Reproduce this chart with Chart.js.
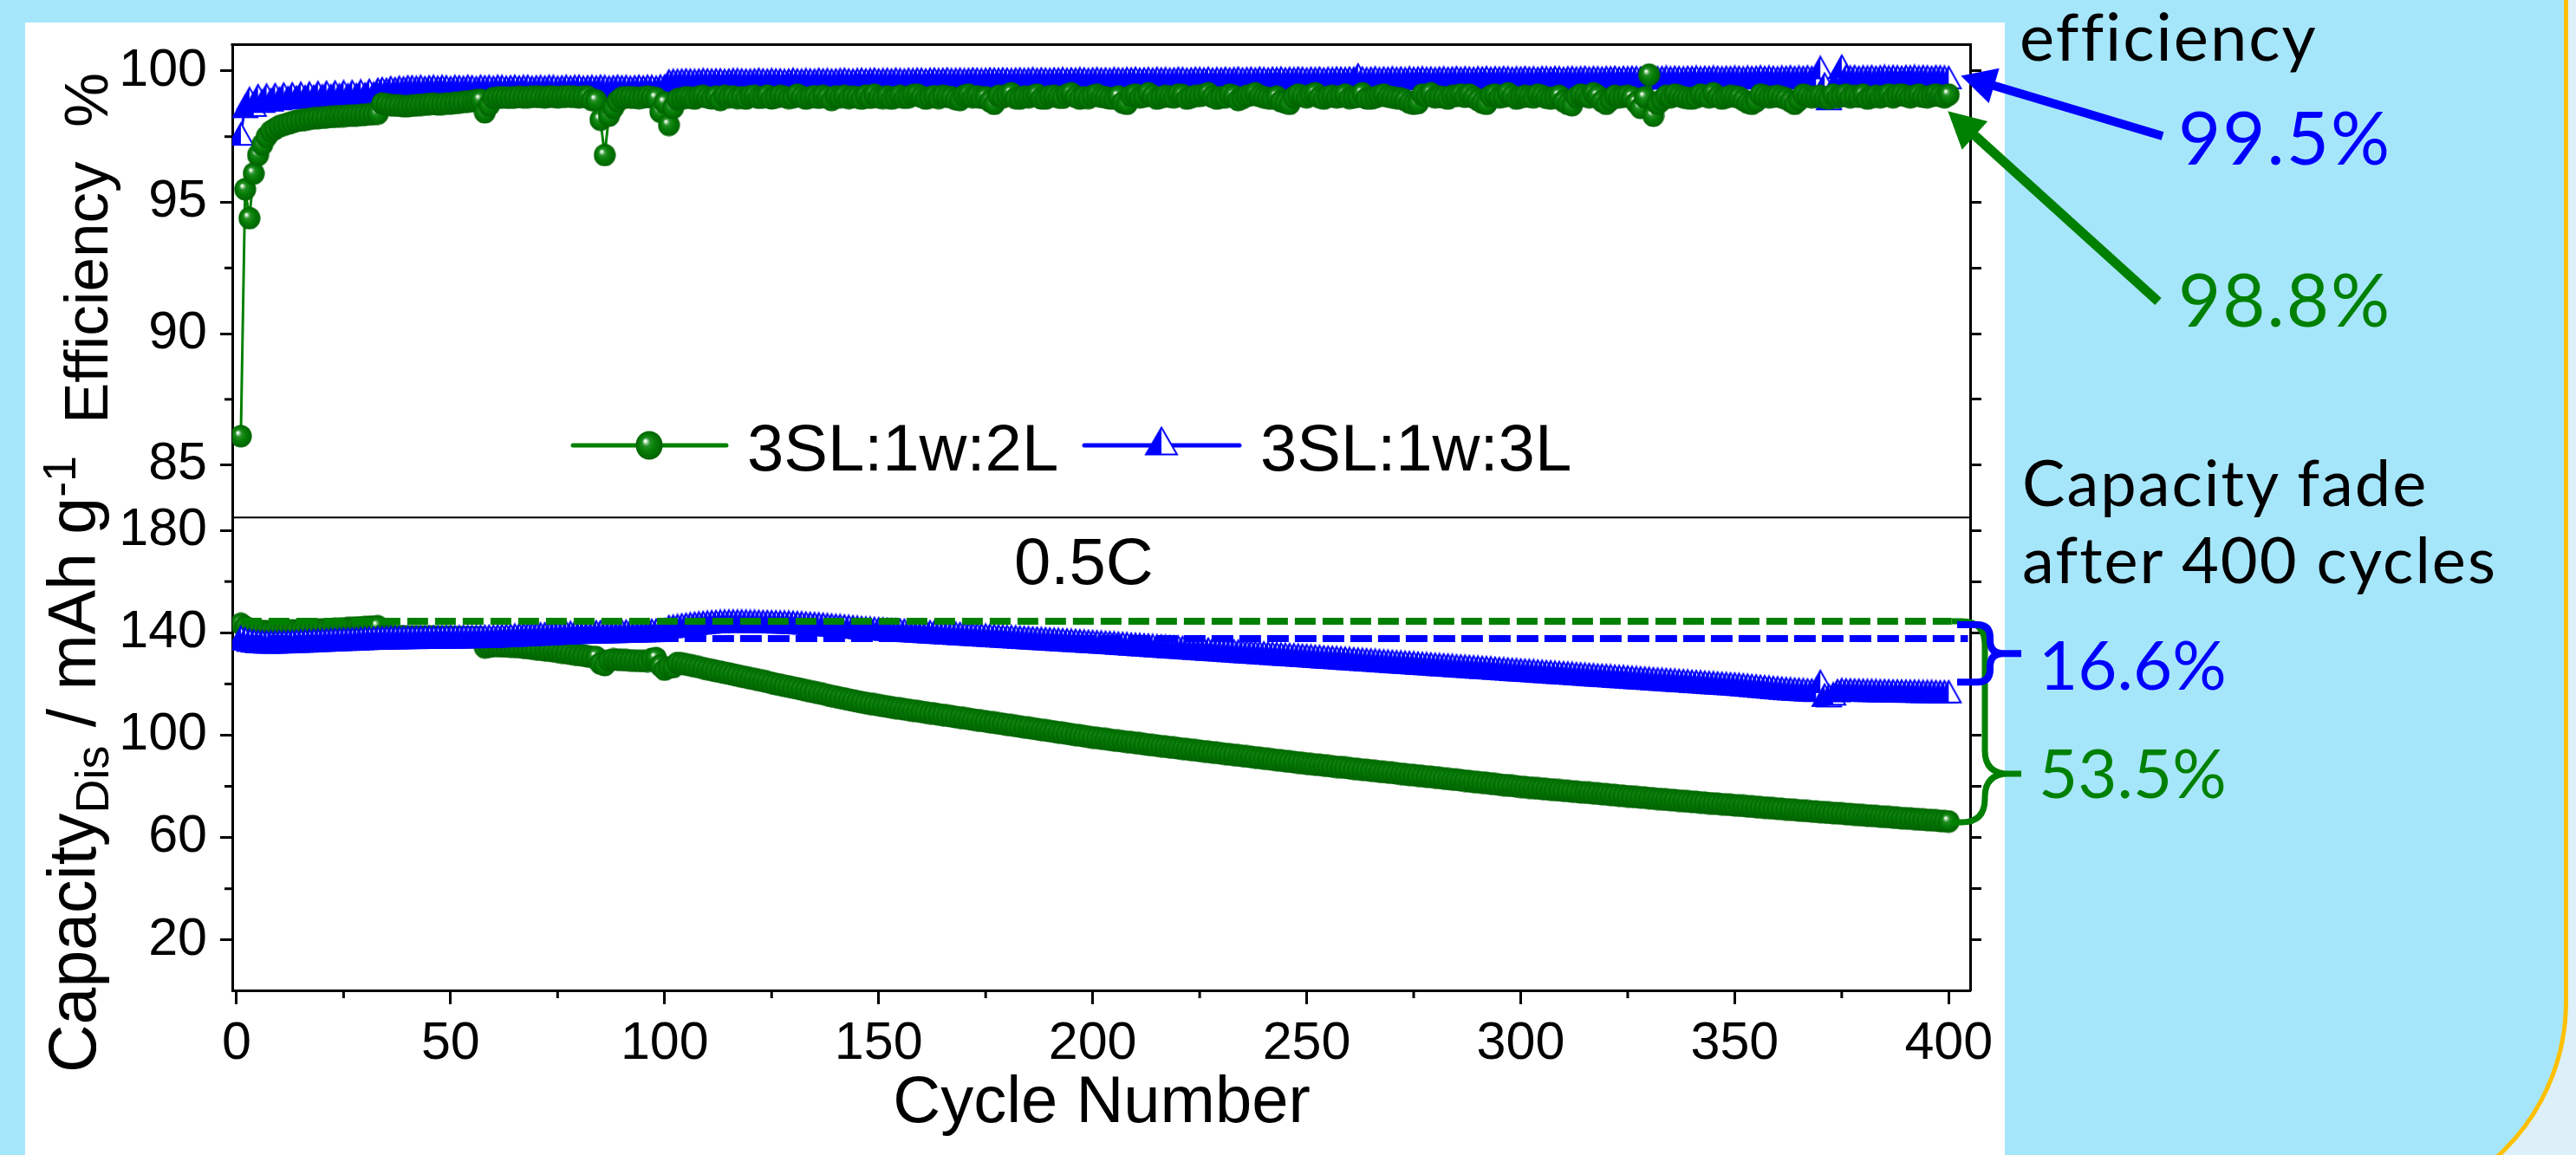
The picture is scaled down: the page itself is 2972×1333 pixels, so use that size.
<!DOCTYPE html>
<html>
<head>
<meta charset="utf-8">
<title>Cycling: efficiency and discharge capacity</title>
<script src="https://cdn.jsdelivr.net/npm/chart.js@4.4.1/dist/chart.umd.min.js"></script>
<style>
  html, body { margin: 0; padding: 0; }
  body { position: relative; width: 2972px; height: 1333px; overflow: hidden; background: #ddf0fa; }
  #card { position: absolute; left: -300px; top: -300px; width: 3263px; height: 1700px; box-sizing: border-box;
          border: 5px solid #ffc000; border-radius: 244px; background: #a6e6fb; }
  #sheet { position: absolute; left: 29px; top: 26px; width: 2284px; height: 1400px; background: #fff; }
  #chart { position: absolute; left: 0; top: 0; }
  .t { position: absolute; white-space: pre; line-height: 1; color: #000;
       font-family: "Liberation Sans", Arial, sans-serif; }
  .n { font-family: Lato, "Noto Sans", sans-serif; letter-spacing: 2px; }
  .rot { transform-origin: 0 0; transform: rotate(-90deg); }
</style>
</head>
<body>
<div id="card"></div>
<div id="sheet"></div>
<canvas id="chart" width="2972" height="1333"></canvas>

<div class="t rot" style="left:64px; top:489px; font-size:71px">Efficiency  %</div>
<div class="t rot" style="left:45px; top:1238px; font-size:77px">Capacity<span style="position:relative; top:0.27em; font-size:0.7em">Dis</span> / mAh g<span style="position:relative; top:-0.42em; font-size:0.7em">-1</span></div>
<div class="t" style="left:1271px; top:1231px; font-size:76px; transform:translateX(-50%)">Cycle Number</div>
<div class="t" style="left:862px; top:479px; font-size:76px">3SL:1w:2L</div>
<div class="t" style="left:1454px; top:479px; font-size:76px">3SL:1w:3L</div>
<div class="t" style="left:1170px; top:610px; font-size:76px">0.5C</div>

<div class="t n" style="left:2330px; top:3px; font-size:76px">efficiency</div>
<div class="t n" style="left:2513px; top:115px; font-size:85px; color:#0000ff">99.5%</div>
<div class="t n" style="left:2513px; top:302px; font-size:85px; color:#008000">98.8%</div>
<div class="t n" style="left:2333px; top:519px; font-size:74px">Capacity fade</div>
<div class="t n" style="left:2333px; top:608px; font-size:74px">after 400 cycles</div>
<div class="t n" style="left:2352px; top:727px; font-size:78px; letter-spacing:0; color:#0000ff">16.6%</div>
<div class="t n" style="left:2352px; top:852px; font-size:78px; letter-spacing:0; color:#008000">53.5%</div>

<script>
// cycle numbers
const cycles = [
  1, 2, 3, 4, 5, 6, 7, 8, 9, 10,
  11, 12, 13, 14, 15, 16, 17, 18, 19, 20,
  21, 22, 23, 24, 25, 26, 27, 28, 29, 30,
  31, 32, 33, 34, 35, 36, 37, 38, 39, 40,
  41, 42, 43, 44, 45, 46, 47, 48, 49, 50,
  51, 52, 53, 54, 55, 56, 57, 58, 59, 60,
  61, 62, 63, 64, 65, 66, 67, 68, 69, 70,
  71, 72, 73, 74, 75, 76, 77, 78, 79, 80,
  81, 82, 83, 84, 85, 86, 87, 88, 89, 90,
  91, 92, 93, 94, 95, 96, 97, 98, 99, 100,
  101, 102, 103, 104, 105, 106, 107, 108, 109, 110,
  111, 112, 113, 114, 115, 116, 117, 118, 119, 120,
  121, 122, 123, 124, 125, 126, 127, 128, 129, 130,
  131, 132, 133, 134, 135, 136, 137, 138, 139, 140,
  141, 142, 143, 144, 145, 146, 147, 148, 149, 150,
  151, 152, 153, 154, 155, 156, 157, 158, 159, 160,
  161, 162, 163, 164, 165, 166, 167, 168, 169, 170,
  171, 172, 173, 174, 175, 176, 177, 178, 179, 180,
  181, 182, 183, 184, 185, 186, 187, 188, 189, 190,
  191, 192, 193, 194, 195, 196, 197, 198, 199, 200,
  201, 202, 203, 204, 205, 206, 207, 208, 209, 210,
  211, 212, 213, 214, 215, 216, 217, 218, 219, 220,
  221, 222, 223, 224, 225, 226, 227, 228, 229, 230,
  231, 232, 233, 234, 235, 236, 237, 238, 239, 240,
  241, 242, 243, 244, 245, 246, 247, 248, 249, 250,
  251, 252, 253, 254, 255, 256, 257, 258, 259, 260,
  261, 262, 263, 264, 265, 266, 267, 268, 269, 270,
  271, 272, 273, 274, 275, 276, 277, 278, 279, 280,
  281, 282, 283, 284, 285, 286, 287, 288, 289, 290,
  291, 292, 293, 294, 295, 296, 297, 298, 299, 300,
  301, 302, 303, 304, 305, 306, 307, 308, 309, 310,
  311, 312, 313, 314, 315, 316, 317, 318, 319, 320,
  321, 322, 323, 324, 325, 326, 327, 328, 329, 330,
  331, 332, 333, 334, 335, 336, 337, 338, 339, 340,
  341, 342, 343, 344, 345, 346, 347, 348, 349, 350,
  351, 352, 353, 354, 355, 356, 357, 358, 359, 360,
  361, 362, 363, 364, 365, 366, 367, 368, 369, 370,
  371, 372, 373, 374, 375, 376, 377, 378, 379, 380,
  381, 382, 383, 384, 385, 386, 387, 388, 389, 390,
  391, 392, 393, 394, 395, 396, 397, 398, 399, 400
];

// coulombic efficiency (%), 3SL:1w:2L
const effA = [
  86.1, 95.5, 94.4, 96.1, 96.8, 97.2, 97.5, 97.7, 97.8, 97.9,
  97.95, 98.0, 98.05, 98.1, 98.12, 98.15, 98.18, 98.2, 98.21, 98.22,
  98.24, 98.25, 98.26, 98.28, 98.28, 98.3, 98.3, 98.31, 98.32, 98.33,
  98.35, 98.36, 98.38, 98.76, 98.74, 98.7, 98.69, 98.68, 98.66, 98.66,
  98.68, 98.7, 98.71, 98.72, 98.74, 98.75, 98.73, 98.74, 98.76, 98.76,
  98.78, 98.8, 98.82, 98.84, 98.85, 98.88, 98.9, 98.43, 98.7, 98.97,
  98.98, 99.0, 98.99, 98.98, 99.0, 99.01, 99.0, 99.0, 99.02, 99.02,
  99.01, 99.0, 99.02, 99.02, 99.0, 99.01, 99.03, 99.03, 99.01, 99.0,
  99.02, 99.02, 98.9, 98.88, 98.15, 96.8, 98.3, 98.6, 98.85, 98.98,
  99.0, 99.0, 98.98, 98.97, 99.0, 99.02, 99.0, 98.97, 98.45, 98.8,
  97.95, 98.6, 98.92, 98.95, 99.0, 98.98, 98.95, 99.02, 99.05, 99.0,
  98.96, 99.02, 98.9, 99.05, 99.0, 99.03, 98.97, 99.0, 98.95, 99.04,
  99.05, 98.98, 99.0, 99.06, 98.96, 99.0, 99.05, 99.02, 98.97, 99.0,
  99.1, 99.02, 98.95, 99.0, 99.04, 98.98, 99.05, 99.0, 98.9, 99.03,
  99.0, 99.05, 98.97, 99.02, 99.0, 98.95, 99.06, 98.98, 99.1, 99.0,
  98.97, 99.03, 98.95, 99.0, 99.05, 98.98, 99.0, 99.08, 99.1, 99.02,
  98.95, 99.0, 99.04, 98.97, 99.05, 99.02, 99.0, 98.93, 98.9, 99.06,
  99.1, 99.0, 99.03, 98.98, 99.0, 98.85, 98.75, 99.05, 99.0, 99.08,
  99.15, 98.97, 98.95, 99.02, 99.0, 99.05, 99.1, 98.96, 98.95, 99.04,
  99.05, 99.0, 98.98, 99.1, 99.15, 99.02, 98.95, 99.0, 98.97, 99.05,
  99.1, 99.02, 99.0, 98.96, 98.95, 99.03, 98.8, 98.75, 99.05, 99.1,
  99.0, 99.03, 99.15, 99.05, 98.95, 99.0, 99.05, 99.02, 99.0, 99.1,
  99.08, 98.95, 99.0, 99.05, 99.05, 99.1, 99.15, 99.02, 98.95, 99.0,
  99.0, 99.1, 99.05, 98.9, 98.97, 99.05, 99.08, 99.15, 99.05, 99.0,
  98.97, 98.95, 99.02, 98.85, 98.8, 98.75, 99.0, 99.1, 99.05, 99.0,
  99.08, 99.15, 99.0, 98.95, 99.02, 99.05, 99.0, 99.04, 99.1, 98.97,
  99.0, 99.02, 99.15, 98.96, 98.95, 99.0, 99.05, 99.1, 99.03, 99.0,
  98.97, 98.95, 98.9, 98.8, 98.75, 98.78, 99.1, 99.05, 99.15, 99.0,
  99.02, 99.0, 98.95, 99.05, 99.05, 99.1, 99.02, 99.1, 99.0, 98.9,
  98.8, 98.75, 99.05, 99.1, 99.0, 99.03, 99.15, 99.05, 98.95, 99.0,
  99.05, 99.02, 99.0, 99.1, 99.05, 98.98, 98.95, 99.0, 99.05, 98.85,
  98.75, 98.7, 99.0, 99.1, 99.05, 99.0, 99.15, 99.05, 98.85, 98.75,
  98.9, 99.05, 99.0, 99.02, 99.05, 99.0, 98.8, 98.6, 99.0, 99.86,
  98.3, 98.75, 98.9, 99.05, 99.0, 99.1, 99.05, 99.0, 98.97, 98.95,
  99.0, 99.1, 99.05, 99.0, 99.15, 99.02, 98.95, 99.0, 99.05, 99.03,
  99.0, 98.9, 98.8, 98.75, 98.85, 99.1, 99.05, 99.0, 99.02, 99.05,
  99.0, 98.95, 98.85, 98.75, 98.9, 99.1, 99.05, 99.0, 99.02, 99.05,
  98.98, 98.95, 99.1, 99.0, 99.05, 99.1, 99.0, 99.05, 99.02, 99.1,
  98.95, 99.0, 99.05, 99.0, 99.05, 99.1, 99.0, 99.08, 99.1, 99.05,
  99.0, 99.05, 99.1, 99.02, 99.0, 99.05, 99.1, 99.05, 99.0, 99.1
];

// coulombic efficiency (%), 3SL:1w:3L
const effB = [
  97.6, 98.65, 98.95, 98.7, 99.06, 98.85, 99.08, 98.9, 99.1, 98.95,
  99.12, 98.98, 99.13, 99.0, 99.15, 99.02, 99.16, 99.03, 99.18, 99.05,
  99.19, 99.06, 99.2, 99.08, 99.21, 99.09, 99.22, 99.1, 99.24, 99.12,
  99.26, 99.14, 99.3, 99.33, 99.3, 99.37, 99.33, 99.38, 99.36, 99.4,
  99.4, 99.38, 99.41, 99.37, 99.4, 99.41, 99.38, 99.41, 99.4, 99.37,
  99.41, 99.4, 99.38, 99.42, 99.4, 99.37, 99.42, 99.4, 99.41, 99.38,
  99.42, 99.41, 99.38, 99.4, 99.42, 99.39, 99.41, 99.42, 99.38, 99.4,
  99.41, 99.39, 99.42, 99.41, 99.38, 99.4, 99.42, 99.39, 99.41, 99.42,
  99.38, 99.4, 99.41, 99.39, 99.42, 99.41, 99.38, 99.4, 99.42, 99.4,
  99.41, 99.38, 99.4, 99.42, 99.39, 99.42, 99.41, 99.38, 99.43, 99.43,
  99.62, 99.64, 99.64, 99.65, 99.66, 99.65, 99.64, 99.65, 99.67, 99.66,
  99.65, 99.66, 99.66, 99.64, 99.65, 99.67, 99.67, 99.66, 99.65, 99.65,
  99.66, 99.68, 99.66, 99.65, 99.67, 99.66, 99.66, 99.64, 99.65, 99.68,
  99.66, 99.65, 99.67, 99.66, 99.65, 99.68, 99.66, 99.67, 99.65, 99.66,
  99.67, 99.68, 99.66, 99.65, 99.67, 99.68, 99.66, 99.67, 99.69, 99.66,
  99.67, 99.68, 99.66, 99.69, 99.67, 99.66, 99.68, 99.67, 99.69, 99.68,
  99.66, 99.68, 99.69, 99.67, 99.68, 99.7, 99.67, 99.68, 99.69, 99.67,
  99.68, 99.7, 99.69, 99.67, 99.68, 99.7, 99.69, 99.68, 99.7, 99.69,
  99.67, 99.69, 99.7, 99.68, 99.69, 99.71, 99.68, 99.7, 99.69, 99.68,
  99.7, 99.69, 99.71, 99.68, 99.7, 99.69, 99.71, 99.7, 99.68, 99.7,
  99.71, 99.69, 99.7, 99.68, 99.71, 99.7, 99.69, 99.71, 99.7, 99.72,
  99.69, 99.7, 99.71, 99.69, 99.72, 99.7, 99.71, 99.69, 99.7, 99.72,
  99.71, 99.69, 99.7, 99.72, 99.71, 99.7, 99.72, 99.69, 99.71, 99.7,
  99.72, 99.7, 99.71, 99.73, 99.7, 99.71, 99.72, 99.7, 99.73, 99.71,
  99.7, 99.72, 99.71, 99.73, 99.7, 99.72, 99.71, 99.73, 99.72, 99.7,
  99.72, 99.71, 99.73, 99.7, 99.72, 99.71, 99.73, 99.72, 99.71, 99.73,
  99.72, 99.85, 99.73, 99.71, 99.72, 99.74, 99.71, 99.73, 99.72, 99.74,
  99.72, 99.73, 99.71, 99.74, 99.72, 99.73, 99.74, 99.72, 99.73, 99.71,
  99.73, 99.74, 99.72, 99.73, 99.75, 99.72, 99.74, 99.73, 99.72, 99.74,
  99.73, 99.75, 99.72, 99.74, 99.73, 99.75, 99.74, 99.72, 99.74, 99.73,
  99.75, 99.73, 99.74, 99.72, 99.75, 99.74, 99.73, 99.75, 99.74, 99.72,
  99.74, 99.75, 99.73, 99.74, 99.76, 99.73, 99.75, 99.74, 99.73, 99.75,
  99.74, 99.76, 99.73, 99.75, 99.74, 99.76, 99.75, 99.73, 99.75, 99.74,
  99.76, 99.74, 99.75, 99.77, 99.74, 99.76, 99.75, 99.74, 99.76, 99.75,
  99.77, 99.74, 99.76, 99.75, 99.77, 99.76, 99.74, 99.76, 99.75, 99.77,
  99.76, 99.74, 99.77, 99.75, 99.76, 99.78, 99.75, 99.77, 99.76, 99.74,
  99.77, 99.76, 99.78, 99.75, 99.77, 99.76, 99.78, 99.75, 99.6, 100.13,
  99.5, 98.95, 99.4, 99.6, 100.18, 99.8, 99.77, 99.79, 99.76, 99.78,
  99.77, 99.79, 99.76, 99.78, 99.8, 99.77, 99.79, 99.78, 99.76, 99.79,
  99.78, 99.8, 99.77, 99.79, 99.78, 99.76, 99.79, 99.78, 99.77, 99.75
];

// discharge capacity (mAh/g), 3SL:1w:2L
const capA = [
  143.5, 142.3, 141.5, 141.0, 140.8, 140.7, 140.6, 140.6, 140.65, 140.7,
  140.7, 140.8, 140.85, 140.9, 140.95, 141.0, 141.05, 141.1, 141.2, 141.3,
  141.35, 141.4, 141.5, 141.6, 141.7, 141.8, 141.9, 142.0, 142.1, 142.2,
  142.3, 142.4, 142.5, 138.9, 138.8, 138.8, 138.7, 138.7, 138.6, 138.6,
  138.6, 138.6, 138.5, 138.5, 138.5, 138.5, 138.4, 138.4, 138.4, 138.4,
  138.3, 138.3, 138.3, 138.3, 138.2, 138.2, 138.1, 134.3, 134.6, 134.8,
  134.8, 134.7, 134.7, 134.6, 134.5, 134.4, 134.2, 134.0, 133.8, 133.6,
  133.4, 133.2, 133.0, 132.8, 132.6, 132.3, 132.1, 131.8, 131.6, 131.3,
  131.1, 130.8, 130.6, 130.5, 128.0, 127.4, 129.2, 129.6, 129.5, 129.4,
  129.3, 129.2, 129.1, 129.0, 129.0, 128.9, 129.8, 130.1, 127.2, 125.6,
  126.4, 126.6, 128.2, 128.0, 127.6, 127.3, 126.9, 126.6, 126.2, 125.8,
  125.5, 125.1, 124.8, 124.4, 124.1, 123.7, 123.3, 122.9, 122.6, 122.2,
  121.9, 121.5, 121.2, 120.8, 120.4, 120.0, 119.7, 119.3, 119.0, 118.6,
  118.3, 117.9, 117.5, 117.1, 116.8, 116.4, 116.1, 115.7, 115.3, 115.0,
  114.6, 114.3, 113.9, 113.6, 113.2, 112.9, 112.6, 112.3, 112.0, 111.7,
  111.4, 111.2, 110.9, 110.6, 110.4, 110.1, 109.9, 109.6, 109.4, 109.1,
  108.9, 108.6, 108.4, 108.1, 107.9, 107.6, 107.4, 107.1, 106.9, 106.6,
  106.4, 106.1, 105.9, 105.6, 105.4, 105.1, 104.9, 104.6, 104.4, 104.1,
  103.9, 103.6, 103.4, 103.1, 102.9, 102.6, 102.4, 102.1, 101.9, 101.6,
  101.4, 101.1, 100.9, 100.6, 100.4, 100.1, 99.9, 99.6, 99.4, 99.1,
  98.9, 98.7, 98.5, 98.2, 98.0, 97.8, 97.6, 97.4, 97.2, 97.0,
  96.8, 96.5, 96.3, 96.1, 95.9, 95.7, 95.5, 95.3, 95.1, 94.9,
  94.7, 94.5, 94.3, 94.1, 93.9, 93.7, 93.5, 93.3, 93.1, 92.9,
  92.7, 92.5, 92.3, 92.1, 91.9, 91.7, 91.5, 91.3, 91.1, 90.9,
  90.7, 90.5, 90.3, 90.1, 89.9, 89.7, 89.5, 89.3, 89.1, 88.9,
  88.7, 88.5, 88.4, 88.2, 88.0, 87.8, 87.6, 87.5, 87.3, 87.1,
  86.9, 86.7, 86.5, 86.4, 86.2, 86.0, 85.8, 85.6, 85.5, 85.3,
  85.1, 84.9, 84.7, 84.5, 84.4, 84.2, 84.0, 83.8, 83.7, 83.5,
  83.3, 83.1, 82.9, 82.7, 82.6, 82.4, 82.2, 82.0, 81.8, 81.6,
  81.5, 81.3, 81.1, 80.9, 80.7, 80.5, 80.4, 80.2, 80.0, 79.8,
  79.7, 79.5, 79.4, 79.2, 79.1, 78.9, 78.8, 78.6, 78.5, 78.3,
  78.2, 78.0, 77.9, 77.7, 77.6, 77.5, 77.3, 77.2, 77.0, 76.9,
  76.7, 76.6, 76.4, 76.3, 76.1, 76.0, 75.8, 75.7, 75.6, 75.4,
  75.3, 75.1, 75.0, 74.8, 74.7, 74.6, 74.4, 74.3, 74.1, 74.0,
  73.9, 73.7, 73.6, 73.4, 73.3, 73.2, 73.0, 72.9, 72.8, 72.6,
  72.5, 72.4, 72.2, 72.1, 72.0, 71.8, 71.7, 71.6, 71.4, 71.3,
  71.2, 71.0, 70.9, 70.8, 70.6, 70.5, 70.4, 70.2, 70.1, 70.0,
  69.9, 69.7, 69.6, 69.5, 69.4, 69.2, 69.1, 69.0, 68.9, 68.7,
  68.6, 68.5, 68.4, 68.2, 68.1, 68.0, 67.9, 67.7, 67.6, 67.5,
  67.4, 67.3, 67.1, 67.0, 66.9, 66.8, 66.7, 66.5, 66.4, 66.3
];

// discharge capacity (mAh/g), 3SL:1w:3L
const capB = [
  138.2, 137.6, 137.1, 136.8, 136.6, 136.5, 136.4, 136.4, 136.4, 136.45,
  136.5, 136.55, 136.6, 136.7, 136.75, 136.8, 136.9, 137.0, 137.05, 137.1,
  137.2, 137.3, 137.35, 137.4, 137.45, 137.5, 137.55, 137.6, 137.7, 137.8,
  137.85, 137.9, 137.95, 138.0, 138.05, 138.1, 138.1, 138.1, 138.15, 138.2,
  138.2, 138.2, 138.25, 138.3, 138.3, 138.3, 138.3, 138.35, 138.4, 138.4,
  138.4, 138.45, 138.5, 138.5, 138.5, 138.55, 138.6, 138.6, 138.65, 138.7,
  138.8, 138.9, 138.95, 139.0, 139.1, 139.2, 139.3, 139.4, 139.45, 139.5,
  139.55, 139.6, 139.7, 139.8, 139.9, 140.0, 140.05, 140.1, 140.15, 140.2,
  140.25, 140.3, 140.35, 140.4, 140.4, 140.45, 140.5, 140.5, 140.55, 140.6,
  140.65, 140.7, 140.75, 140.8, 140.8, 140.85, 140.9, 141.0, 141.1, 141.2,
  142.4, 142.6, 142.8, 143.1, 143.3, 143.5, 143.7, 143.85, 144.0, 144.15,
  144.3, 144.4, 144.5, 144.55, 144.6, 144.6, 144.6, 144.6, 144.55, 144.5,
  144.5, 144.45, 144.4, 144.4, 144.35, 144.3, 144.25, 144.2, 144.15, 144.1,
  144.0, 143.9, 143.8, 143.7, 143.6, 143.5, 143.35, 143.2, 143.05, 142.9,
  142.8, 142.65, 142.5, 142.35, 142.2, 142.0, 141.9, 141.8, 141.7, 141.6,
  141.5, 141.4, 141.3, 141.2, 141.1, 141.0, 140.9, 140.8, 140.7, 140.6,
  140.5, 140.4, 140.3, 140.2, 140.1, 140.0, 139.9, 139.8, 139.7, 139.6,
  139.5, 139.4, 139.3, 139.2, 139.1, 139.0, 138.9, 138.8, 138.7, 138.6,
  138.5, 138.4, 138.3, 138.2, 138.1, 138.0, 137.9, 137.8, 137.7, 137.6,
  137.5, 137.4, 137.3, 137.2, 137.1, 137.0, 136.9, 136.8, 136.7, 136.6,
  136.5, 136.4, 136.3, 136.2, 136.1, 135.95, 135.85, 135.75, 135.6, 135.5,
  135.4, 135.3, 135.2, 135.05, 134.95, 134.85, 134.7, 134.6, 134.5, 134.4,
  134.3, 134.2, 134.05, 133.95, 133.85, 133.7, 133.6, 133.5, 133.4, 133.3,
  133.15, 133.05, 132.95, 132.85, 132.7, 132.6, 132.5, 132.4, 132.3, 132.15,
  132.05, 131.95, 131.85, 131.7, 131.6, 131.5, 131.4, 131.3, 131.2, 131.1,
  130.95, 130.85, 130.75, 130.6, 130.5, 130.4, 130.3, 130.2, 130.05, 129.95,
  129.85, 129.7, 129.6, 129.5, 129.4, 129.3, 129.15, 129.05, 128.95, 128.85,
  128.7, 128.6, 128.5, 128.4, 128.3, 128.15, 128.05, 127.95, 127.85, 127.7,
  127.6, 127.5, 127.4, 127.3, 127.15, 127.05, 126.95, 126.85, 126.7, 126.6,
  126.5, 126.4, 126.3, 126.15, 126.05, 125.95, 125.85, 125.7, 125.6, 125.5,
  125.4, 125.3, 125.2, 125.05, 124.95, 124.85, 124.75, 124.6, 124.5, 124.4,
  124.3, 124.2, 124.05, 123.95, 123.85, 123.75, 123.6, 123.5, 123.4, 123.3,
  123.2, 123.05, 122.95, 122.85, 122.75, 122.6, 122.5, 122.4, 122.3, 122.2,
  122.05, 121.95, 121.85, 121.75, 121.6, 121.5, 121.4, 121.3, 121.2, 121.05,
  120.95, 120.85, 120.75, 120.6, 120.5, 120.4, 120.3, 120.2, 120.1, 120.0,
  119.85, 119.7, 119.55, 119.4, 119.25, 119.1, 118.95, 118.8, 118.65, 118.5,
  118.35, 118.2, 118.1, 118.0, 117.9, 117.8, 117.7, 117.6, 117.5, 121.0,
  115.6, 115.4, 116.1, 117.4, 117.8, 117.7, 117.7, 117.6, 117.6, 117.55,
  117.5, 117.5, 117.45, 117.4, 117.4, 117.35, 117.3, 117.3, 117.25, 117.2,
  117.2, 117.2, 117.15, 117.1, 117.1, 117.1, 117.05, 117.0, 117.0, 117.0
];

// dashed initial-capacity reference lines
const refXA = [1, 400.7];
const refYA = [144.5, 144.5];
const refXB = [1, 404.5];
const refYB = [137.7, 137.7];

// braces on the right: [top, tip, bottom] in mAh/g
const braceA = [144.5, 84.9, 66.0];
const braceB = [143.1, 131.9, 120.7];

// minor tick positions
const minorX = [25, 75, 125, 175, 225, 275, 325, 375];
const minorEff = [87.5, 92.5, 97.5];
const minorCap = [40, 80, 120, 160];

const GREEN = '#008000';
const BLUE = '#0000ff';
Chart.defaults.font.family = '"Liberation Sans", Arial, sans-serif';
Chart.defaults.color = '#000';

function ball(w, h) {
  const c = document.createElement('canvas');
  c.width = w; c.height = h;
  const g = c.getContext('2d');
  g.translate(w / 2, h / 2);
  g.scale(w / 2, h / 2);
  const grad = g.createRadialGradient(-0.3, -0.32, 0, 0, 0, 1);
  grad.addColorStop(0, '#ffffff');
  grad.addColorStop(0.07, '#f0fff0');
  grad.addColorStop(0.17, '#86c286');
  grad.addColorStop(0.3, '#228f22');
  grad.addColorStop(0.55, '#077f07');
  grad.addColorStop(1, '#006000');
  g.fillStyle = grad;
  g.beginPath(); g.arc(0, 0, 0.97, 0, Math.PI * 2); g.fill();
  return c;
}

function halfTriangle(w, h) {
  const c = document.createElement('canvas');
  c.width = w + 4; c.height = h + 4;
  const g = c.getContext('2d');
  const L = 2, R = w + 2, T = 2, B = h + 2, M = (L + R) / 2;
  g.fillStyle = '#ffffff';
  g.beginPath(); g.moveTo(M, T); g.lineTo(R, B); g.lineTo(L, B); g.closePath(); g.fill();
  g.fillStyle = BLUE;
  g.beginPath(); g.moveTo(M, T); g.lineTo(M, B); g.lineTo(L, B); g.closePath(); g.fill();
  g.strokeStyle = BLUE; g.lineWidth = 2;
  g.beginPath(); g.moveTo(M, T); g.lineTo(R, B); g.lineTo(L, B); g.closePath(); g.stroke();
  return c;
}

const dotImg = ball(26, 27);
const triImg = halfTriangle(28, 25);
const legendDot = ball(32, 34);
const legendTri = halfTriangle(36, 31);

const toPoints = ys => cycles.map((c, i) => ({ x: c, y: ys[i] }));
const pairPoints = (xs, ys) => xs.map((x, i) => ({ x: x, y: ys[i] }));

function seg(ctx, x0, y0, x1, y1) {
  ctx.beginPath(); ctx.moveTo(x0, y0); ctx.lineTo(x1, y1); ctx.stroke();
}

function arrow(ctx, x0, y0, x1, y1, color, lw, hl, hw) {
  const L = Math.hypot(x1 - x0, y1 - y0);
  const ux = (x1 - x0) / L, uy = (y1 - y0) / L;
  const bx = x1 - ux * hl, by = y1 - uy * hl;
  ctx.strokeStyle = color; ctx.fillStyle = color; ctx.lineWidth = lw; ctx.lineCap = 'butt';
  seg(ctx, x0, y0, bx + ux * 2, by + uy * 2);
  ctx.beginPath();
  ctx.moveTo(x1, y1);
  ctx.lineTo(bx - uy * hw, by + ux * hw);
  ctx.lineTo(bx + uy * hw, by - ux * hw);
  ctx.closePath(); ctx.fill();
}

function brace(ctx, x0, xv, xt, yt, ym, yb, color, lw, r) {
  ctx.strokeStyle = color; ctx.lineWidth = lw; ctx.lineCap = 'butt'; ctx.lineJoin = 'round';
  ctx.beginPath();
  ctx.moveTo(x0, yt);
  ctx.lineTo(xv - r, yt);
  ctx.quadraticCurveTo(xv, yt, xv, yt + r);
  ctx.lineTo(xv, ym - r);
  ctx.quadraticCurveTo(xv, ym, xv + r, ym);
  ctx.lineTo(xt, ym);
  ctx.moveTo(xv + r, ym);
  ctx.quadraticCurveTo(xv, ym, xv, ym + r);
  ctx.lineTo(xv, yb - r);
  ctx.quadraticCurveTo(xv, yb, xv - r, yb);
  ctx.lineTo(x0, yb);
  ctx.stroke();
}

const decor = {
  id: 'decor',
  afterDraw(chart) {
    const { ctx, chartArea: a } = chart;
    const sx = chart.scales.x, yE = chart.scales.yEff, yC = chart.scales.yCap;
    ctx.save();
    ctx.strokeStyle = '#000';
    ctx.lineWidth = 3;
    seg(ctx, a.left - 1.5, a.top, a.right + 1.5, a.top);
    ctx.lineWidth = 2;
    seg(ctx, a.left, yE.bottom, a.right, yE.bottom);
    ctx.lineWidth = 3;
    minorX.forEach(v => { const p = sx.getPixelForValue(v); seg(ctx, p, a.bottom, p, a.bottom + 9); });
    minorEff.forEach(v => { const p = yE.getPixelForValue(v); seg(ctx, a.left - 9, p, a.left, p); });
    minorCap.forEach(v => { const p = yC.getPixelForValue(v); seg(ctx, a.left - 9, p, a.left, p); });

    // legend symbols
    ctx.lineCap = 'round'; ctx.lineWidth = 5;
    ctx.strokeStyle = GREEN;
    seg(ctx, 661, 514, 838, 514);
    ctx.drawImage(legendDot, 749 - legendDot.width / 2, 514 - legendDot.height / 2);
    ctx.strokeStyle = BLUE;
    seg(ctx, 1251, 514, 1430, 514);
    ctx.drawImage(legendTri, 1340 - legendTri.width / 2, 509 - legendTri.height / 2);

    // arrows to the last efficiency points
    const last = cycles.length - 1;
    const xEnd = sx.getPixelForValue(cycles[last]);
    arrow(ctx, 2495, 157, xEnd + 14, yE.getPixelForValue(effB[last]) - 2, BLUE, 10, 40, 21);
    arrow(ctx, 2490, 348, xEnd - 1, yE.getPixelForValue(effA[last]) + 19, GREEN, 11, 42, 22);

    // capacity-fade braces
    brace(ctx, a.right - 21, a.right + 17, a.right + 59,
      yC.getPixelForValue(braceA[0]), yC.getPixelForValue(braceA[1]), yC.getPixelForValue(braceA[2]), GREEN, 7, 27);
    brace(ctx, a.right - 15, a.right + 23, a.right + 59,
      yC.getPixelForValue(braceB[0]), yC.getPixelForValue(braceB[1]), yC.getPixelForValue(braceB[2]), BLUE, 8, 15);
    ctx.restore();
  }
};

const tickFont = { size: 61 };
const axisGrid = { drawOnChartArea: false, tickLength: 14, tickWidth: 3, tickColor: '#000' };
const axisBorder = { display: true, color: '#000', width: 3 };
const rightGrid = { drawOnChartArea: false, tickLength: 13, tickWidth: 3, tickColor: '#000' };

new Chart(document.getElementById('chart'), {
  type: 'line',
  data: {
    datasets: [
      { label: 'initial 3SL:1w:2L', data: pairPoints(refXA, refYA), yAxisID: 'yCap', borderColor: GREEN,
        borderWidth: 8, borderDash: [24, 8], pointRadius: 0, order: 0 },
      { label: 'initial 3SL:1w:3L', data: pairPoints(refXB, refYB), yAxisID: 'yCap', borderColor: BLUE,
        borderWidth: 8, borderDash: [25, 7], pointRadius: 0, order: 1 },
      { label: '3SL:1w:2L', data: toPoints(effA), yAxisID: 'yEff', borderColor: GREEN, borderWidth: 3,
        pointStyle: dotImg, pointRadius: 13, order: 2 },
      { label: '3SL:1w:3L', data: toPoints(effB), yAxisID: 'yEff', borderColor: BLUE, borderWidth: 3,
        pointStyle: triImg, pointRadius: 13, order: 3 },
      { label: '3SL:1w:3L capacity', data: toPoints(capB), yAxisID: 'yCap', borderColor: BLUE, borderWidth: 3,
        pointStyle: triImg, pointRadius: 13, order: 2 },
      { label: '3SL:1w:2L capacity', data: toPoints(capA), yAxisID: 'yCap', borderColor: GREEN, borderWidth: 3,
        pointStyle: dotImg, pointRadius: 13, order: 3 }
    ]
  },
  options: {
    responsive: false,
    animation: false,
    devicePixelRatio: 1,
    events: [],
    layout: { padding: { top: 49, left: 0, right: 0, bottom: 0 } },
    elements: { line: { tension: 0 } },
    plugins: { legend: { display: false }, tooltip: { enabled: false } },
    scales: {
      x: {
        type: 'linear', min: -1, max: 405,
        afterFit: s => { s.height = 190; },
        ticks: { stepSize: 50, includeBounds: false, font: tickFont, padding: 10, maxRotation: 0 },
        grid: { drawOnChartArea: false, tickLength: 16, tickWidth: 3, tickColor: '#000' },
        border: axisBorder
      },
      yCap: {
        type: 'linear', position: 'left', stack: 'left', weight: 0, min: 0.3, max: 185,
        afterFit: s => { s.width = 268; },
        ticks: { stepSize: 20, includeBounds: false, font: tickFont, padding: 15 },
        grid: axisGrid, border: axisBorder
      },
      yEff: {
        type: 'linear', position: 'left', stack: 'left', weight: 1, min: 83, max: 101,
        afterFit: s => { s.width = 268; },
        ticks: { stepSize: 5, includeBounds: false, font: tickFont, padding: 15 },
        grid: axisGrid, border: axisBorder
      },
      yEffR: {
        type: 'linear', position: 'right', stack: 'right', weight: 0, min: 83, max: 101,
        afterFit: s => { s.width = 699; },
        ticks: { display: false, stepSize: 2.5, includeBounds: false },
        grid: rightGrid, border: axisBorder
      },
      yCapR: {
        type: 'linear', position: 'right', stack: 'right', weight: 1, min: 0.3, max: 185,
        afterFit: s => { s.width = 699; },
        ticks: { display: false, stepSize: 20, includeBounds: false },
        grid: rightGrid, border: axisBorder
      }
    }
  },
  plugins: [decor]
});
</script>
</body>
</html>
